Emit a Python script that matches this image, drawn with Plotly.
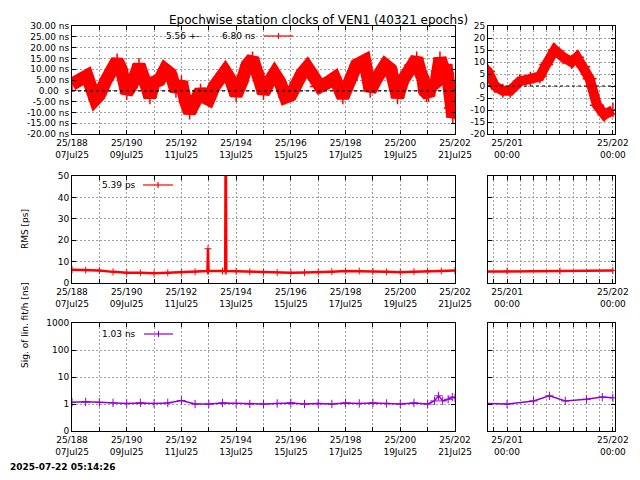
import plotly.graph_objects as go

# ---- data ----
clk_day = [188.0,188.25,188.55,188.85,189.0,189.25,189.5,189.65,189.8,190.0,190.2,190.45,190.7,190.85,
           191.0,191.2,191.4,191.6,191.8,192.0,192.15,192.3,192.5,192.7,192.85,193.0,193.2,193.4,193.6,
           193.8,194.0,194.2,194.4,194.6,194.8,195.0,195.2,195.4,195.6,195.8,196.0,196.2,196.4,196.6,
           196.8,196.95,197.07,197.37,197.6,197.9,198.2,198.4,198.7,198.9,199.1,199.45,199.65,199.9,
           200.1,200.4,200.6,200.75,200.82,200.885,200.96,201.03,201.12,201.22,201.31,201.37,201.45,
           201.53,201.61,201.66,201.72,201.78,201.85,201.92,202.0]
clk_ns = [3,5,7,-4,-2,5,10,14,10,-1,3,12,3,-3,
          4,5,10,8,0,4,-5,-10,-5,0,-3,-4,2,5,9,
          5,-2,4,12,15,8,-1,4,8,4,-3,-2,4,8,11,
          7,2,2,4,6,-3,5,12,14,0,5,12,10,-3,
          5,12,15,8,6,0,-2,-2,2,3,4,9,15,
          12,10,12,8,3,-8,-12,-10]

rms_day = [188.0,188.5,189.0,189.5,190.0,190.5,191.0,191.5,192.0,192.5,192.95,192.97,192.99,193.5,193.6,193.62,193.64,
           194.0,194.5,195.0,195.5,196.0,196.5,197.0,197.5,198.0,198.5,199.0,199.5,200.0,200.5,201.0,201.5,202.0]
rms_ps = [6.2,6.0,5.8,5.2,4.8,4.8,4.6,4.8,5.0,5.2,5.6,16,5.6,5.6,5.6,80,5.6,
          5.5,5.3,5.0,4.9,4.8,4.9,5.0,5.3,5.6,5.6,5.4,5.2,5.0,5.3,5.6,5.6,5.8]

sig_day = [188.0,188.5,189.0,189.5,190.0,190.5,191.0,191.5,192.0,192.5,193.0,193.5,194.0,194.5,195.0,195.5,
           196.0,196.5,197.0,197.5,198.0,198.5,199.0,199.5,200.0,200.5,201.0,201.25,201.4,201.55,201.75,201.9,202.0]
sig_ns = [1.15,1.2,1.15,1.1,1.05,1.1,1.05,1.1,1.35,1.0,1.0,1.1,1.05,1.0,1.0,1.05,
          1.1,1.0,1.05,1.0,1.1,1.05,1.1,1.05,1.0,1.1,1.0,1.3,2.0,1.3,1.5,1.8,1.7]

tick_days = list(range(188, 203))
tick_dates = {188:"07Jul25",190:"09Jul25",192:"11Jul25",194:"13Jul25",196:"15Jul25",198:"17Jul25",200:"19Jul25",202:"21Jul25"}
clk_ticks = [30,25,20,15,10,5,0,-5,-10,-15,-20]
log_ticks = [0.1,1,10,100,1000]
log_text = ["0","1","10","100","1000"]

RED = "#ff0000"
VIO = "#9400d3"
FONT = dict(family="DejaVu Sans", size=9, color="black")

fig = go.Figure()

# page body has an 8px margin; figure is 624x464 placed at (8,8)
def W(px): return (px-8)/624
def H(py): return 1-(py-8)/464

xl = [W(72), W(455)]
xr = [W(488), W(615)]
yt = [H(134), H(26)]
ym = [H(283), H(176)]
yb = [H(431), H(323)]

panels = [("x","y",xl,yt),("x2","y2",xr,yt),
          ("x3","y3",xl,ym),("x4","y4",xr,ym),
          ("x5","y5",xl,yb),("x6","y6",xr,yb)]

for i,(xa,ya,_,_) in enumerate(panels):
    row = i//2
    if row == 0:
        fig.add_trace(go.Scatter(x=clk_day, y=clk_ns, mode="lines+markers", xaxis=xa, yaxis=ya,
                                 line=dict(color=RED, width=13 if i == 0 else 10),
                                 marker=dict(symbol="cross-thin", size=10,
                                 line=dict(color=RED, width=1.5)), showlegend=False))
    elif row == 1:
        fig.add_trace(go.Scatter(x=rms_day, y=rms_ps, mode="lines+markers", xaxis=xa, yaxis=ya,
                                 line=dict(color=RED, width=2.5), marker=dict(symbol="cross-thin", size=5,
                                 line=dict(color=RED, width=1)), showlegend=False))
    else:
        fig.add_trace(go.Scatter(x=sig_day, y=sig_ns, mode="lines+markers", xaxis=xa, yaxis=ya,
                                 line=dict(color=VIO, width=1.5), marker=dict(symbol="cross-thin", size=6,
                                 line=dict(color=VIO, width=1)), showlegend=False))

lay = {}
left_text = [("25/%d<br>%s" % (d, tick_dates[d])) if d in tick_dates else "" for d in tick_days]
rt_vals = [200.875 + 0.125*k for k in range(10)]
rt_text = ["25/201<br>00:00" if abs(v-201)<1e-6 else ("25/202<br>00:00" if abs(v-202)<1e-6 else "") for v in rt_vals]
common = dict(showline=True, linecolor="black", linewidth=1, mirror="ticks", ticks="inside", ticklen=4,
              tickcolor="black", showgrid=True, gridcolor="#a0a0a0", griddash="2px,2px", gridwidth=0.8,
              zeroline=False, tickfont=FONT, automargin=False)
for i,(xa,ya,xd,yd) in enumerate(panels):
    xk = "xaxis" + xa[1:]
    yk = "yaxis" + ya[1:]
    row = i//2
    right = i % 2 == 1
    if right:
        lay[xk] = dict(common, domain=xd, anchor=ya, range=[200.82, 202.02], tickvals=rt_vals, ticktext=rt_text)
    else:
        lay[xk] = dict(common, domain=xd, anchor=ya, range=[188, 202], tickvals=tick_days, ticktext=left_text)
    if row == 0:
        if right:
            lay[yk] = dict(common, domain=yd, anchor=xa, range=[-20, 25], tickvals=clk_ticks[1:],
                           ticktext=[str(v) for v in clk_ticks[1:]])
        else:
            lay[yk] = dict(common, domain=yd, anchor=xa, range=[-20, 30], tickvals=clk_ticks,
                           ticktext=[("%.2f ns" % v) if v != 0 else "0.00  s" for v in clk_ticks])
    elif row == 1:
        lay[yk] = dict(common, domain=yd, anchor=xa, range=[0, 50], tickvals=[0,10,20,30,40,50],
                       showticklabels=not right)
    else:
        lay[yk] = dict(common, domain=yd, anchor=xa, type="log", range=[-1, 3], tickvals=log_ticks,
                       ticktext=log_text, showticklabels=not right)
fig.update_layout(**lay)

for xa, ya in [("x","y"),("x2","y2")]:
    fig.add_shape(type="line", xref=xa+" domain", yref=ya, x0=0, x1=1, y0=0, y1=0,
                  line=dict(color="black", width=1.2, dash="dot"))

def legend(xpx, ypx, text, color, x0, x1):
    fig.add_annotation(x=W(xpx), y=H(ypx), xref="paper", yref="paper", text=text, showarrow=False,
                       xanchor="left", yanchor="middle", font=FONT)
    fig.add_shape(type="line", xref="paper", yref="paper", x0=W(x0), x1=W(x1), y0=H(ypx), y1=H(ypx),
                  line=dict(color=color, width=1.2))
    fig.add_shape(type="line", xref="paper", yref="paper", x0=W((x0+x1)/2), x1=W((x0+x1)/2),
                  y0=H(ypx-3), y1=H(ypx+3), line=dict(color=color, width=1.2))

fig.add_annotation(x=W(164), y=H(36), xref="paper", yref="paper", text="5.56 +-", showarrow=False,
                   xanchor="left", yanchor="middle", font=FONT)
legend(220, 36, "6.80 ns", RED, 264, 293)
legend(100, 185, "5.39 ps", RED, 143, 173)
legend(100, 334, "1.03 ns", VIO, 144, 173)

fig.add_annotation(x=W(18), y=H(229), xref="paper", yref="paper", text="RMS [ps]", showarrow=False,
                   textangle=-90, font=FONT)
fig.add_annotation(x=W(18), y=H(370), xref="paper", yref="paper", text="Sig. of lin. fit/h [ns]",
                   showarrow=False, textangle=-90, font=FONT)
fig.add_annotation(x=W(318), y=H(11), xref="paper", yref="paper",
                   text="Epochwise station clocks of VEN1 (40321 epochs)", showarrow=False,
                   font=dict(family="DejaVu Sans", size=12, color="black"))
fig.add_annotation(x=0, y=H(474), xref="paper", yref="paper", text="<b>2025-07-22 05:14:26</b>",
                   showarrow=False, xanchor="left", font=FONT)

fig.update_layout(width=624, height=464, margin=dict(l=0, r=0, t=0, b=0),
                  paper_bgcolor="white", plot_bgcolor="white", showlegend=False)
fig.write_html("out.html")
